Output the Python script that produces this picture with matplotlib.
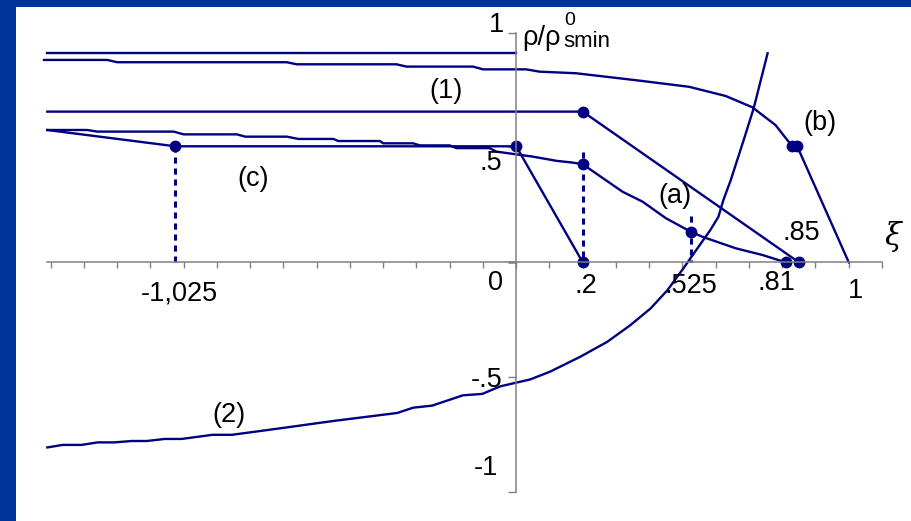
"""
density profiles rho/rho0_smin against xi, with the bubble curve (2) and the
marked break points on the xi axis
"""

import numpy as np
import matplotlib.pyplot as plt
from matplotlib.patches import Rectangle

plt.rcParams['font.family'] = ['Liberation Sans', 'DejaVu Sans']

NAVY = '#000080'
GREY = '#808080'
FRAME = '#003399'

# top flat level
top_x = [-1.41, 0.0]
top_y = [0.912, 0.912]

# (b) stepped profile ending at xi = 1
b_x = [-1.42, -1.23, -1.20, -0.69, -0.66, -0.36, -0.33, -0.13, -0.10, 0.03, 0.07,
       0.18, 0.37, 0.52, 0.63, 0.71, 0.78, 0.83, 0.845, 1.0]
b_y = [0.881, 0.881, 0.871, 0.871, 0.862, 0.862, 0.852, 0.852, 0.840, 0.840, 0.830,
       0.823, 0.791, 0.764, 0.724, 0.675, 0.597, 0.505, 0.505, 0.0]
b_dots_x = [0.83, 0.845]
b_dots_y = [0.505, 0.505]

# (1) flat then linear to .85
c1_x = [-1.41, 0.2, 0.85]
c1_y = [0.656, 0.656, 0.0]

# (a) stepped profile ending at .81
a_x = [-1.41, -1.29, -1.26, -1.03, -1.00, -0.84, -0.815, -0.69, -0.655, -0.55,
       -0.535, -0.41, -0.40, -0.31, -0.29, -0.20, -0.18, -0.08, -0.06, 0.0,
       0.05, 0.12, 0.17, 0.2, 0.32, 0.38, 0.45, 0.525, 0.56, 0.66, 0.74, 0.81]
a_y = [0.576, 0.576, 0.569, 0.569, 0.557, 0.557, 0.547, 0.547, 0.537, 0.537,
       0.528, 0.528, 0.518, 0.518, 0.509, 0.509, 0.497, 0.497, 0.482, 0.470,
       0.460, 0.442, 0.434, 0.427, 0.307, 0.264, 0.192, 0.133, 0.111, 0.061, 0.032, 0.0]
a_dots_x = [0.2, 0.525, 0.81]
a_dots_y = [0.427, 0.133, 0.0]

# (c) drop to -1,025, flat, then linear to .2
c_x = [-1.41, -1.025, 0.0, 0.2]
c_y = [0.576, 0.505, 0.505, 0.0]
c_dots_x = [-1.025, 0.0, 0.2]
c_dots_y = [0.505, 0.505, 0.0]

# (2)
c2_x = [-1.41, -1.364, -1.307, -1.259, -1.208, -1.157, -1.111, -1.057, -1.006,
        -0.913, -0.855, -0.711, -0.551, -0.358, -0.310, -0.253, -0.160, -0.102,
        -0.048, 0.0, 0.042, 0.102, 0.193, 0.274, 0.343, 0.404, 0.455, 0.503,
        0.545, 0.584, 0.608, 0.623, 0.645, 0.684, 0.714, 0.756]
c2_y = [-0.806, -0.795, -0.795, -0.784, -0.784, -0.778, -0.778, -0.769, -0.769,
        -0.751, -0.751, -0.723, -0.691, -0.656, -0.633, -0.624, -0.579, -0.573,
        -0.540, -0.524, -0.510, -0.476, -0.411, -0.346, -0.274, -0.201, -0.121, -0.026,
        0.061, 0.141, 0.198, 0.271, 0.357, 0.532, 0.670, 0.910]

# dotted markers down to the axis
drop_x = [-1.025, 0.2, 0.525]
drop_top = [0.505, 0.48, 0.2]

xtick_labels = ['-1,025', '0', '.2', '.525', '.81', '1']
xtick_label_pos = [(-1.014, -0.135), (-0.063, -0.09), (0.211, -0.105), (0.526, -0.105),
                   (0.782, -0.09), (1.02, -0.125)]
ytick_labels = ['1', '.5', '-.5', '-1']
ytick_label_pos = [(-0.036, 1.035), (-0.042, 0.432), (-0.042, -0.512), (-0.054, -0.896)]

curve_labels = ['(1)', '(b)', '(c)', '(a)', '(2)']
curve_label_pos = [(-0.211, 0.746), (0.914, 0.606), (-0.791, 0.362), (0.478, 0.289),
                   (-0.863, -0.665)]

W, H = 912, 521
fig = plt.figure(figsize=(W / 100, H / 100), dpi=100)
fig.patch.set_facecolor(FRAME)
fig.patches.append(Rectangle((16 / W, 0), 1 - 16 / W, 1 - 7 / H, transform=fig.transFigure,
                             facecolor='white', edgecolor='none', zorder=-10))

x0, x1 = -1.42, 1.1
px_left, px_right = 44, 882
py_top, py_bot = 32.6, 492
ax = fig.add_axes([px_left / W, (H - py_bot) / H, (px_right - px_left) / W, (py_bot - py_top) / H])
ax.set_xlim(x0, x1)
ax.set_ylim(-1, 1)
ax.patch.set_visible(False)

for s in ['top', 'right']:
    ax.spines[s].set_visible(False)
ax.spines['left'].set_position(('data', 0))
ax.spines['bottom'].set_position(('data', 0))
ax.spines['left'].set_bounds(-1, 1)
ax.spines['bottom'].set_bounds(-1.41, 1.1)
for s in ['left', 'bottom']:
    ax.spines[s].set_color(GREY)
    ax.spines[s].set_linewidth(1.1)

ax.set_xticks(np.round(np.arange(-1.4, 1.11, 0.1), 2))
ax.set_yticks([-1, -0.5, 0, 0.5, 1])
ax.tick_params(axis='x', direction='out', length=4, width=1.0, color=GREY, labelbottom=False)
ax.tick_params(axis='y', direction='out', length=6, width=1.0, color=GREY, labelleft=False)
# the origin tick is drawn darker
ax.yaxis.get_major_ticks()[2].tick1line.set_color('black')
ax.yaxis.get_major_ticks()[2].tick1line.set_markeredgewidth(1.8)

lw = 1.7
ms = 7.5
ax.plot(top_x, top_y, color=NAVY, lw=lw)
ax.plot(b_x, b_y, color=NAVY, lw=lw, clip_on=False)
ax.plot(b_dots_x, b_dots_y, 'o', color=NAVY, ms=ms)
ax.plot(c1_x, c1_y, color=NAVY, lw=lw)
ax.plot(c1_x[1:], c1_y[1:], 'o', color=NAVY, ms=ms, clip_on=False)
ax.plot(a_x, a_y, color=NAVY, lw=lw)
ax.plot(a_dots_x, a_dots_y, 'o', color=NAVY, ms=ms, clip_on=False)
ax.plot(c_x, c_y, color=NAVY, lw=lw)
ax.plot(c_dots_x, c_dots_y, 'o', color=NAVY, ms=ms, clip_on=False)
ax.plot(c2_x, c2_y, color=NAVY, lw=lw)

for xv, yt in zip(drop_x, drop_top):
    ax.plot([xv, xv], [yt, 0], color=NAVY, lw=2.2, linestyle=(0, (2.0, 1.6)))

fs = 19.5
for s, (xv, yv) in zip(xtick_labels, xtick_label_pos):
    ax.text(xv, yv, s, ha='center', va='center', fontsize=fs)
for s, (xv, yv) in zip(ytick_labels, ytick_label_pos):
    ax.text(xv, yv, s, ha='right', va='center', fontsize=fs)
for s, (xv, yv) in zip(curve_labels, curve_label_pos):
    ax.text(xv, yv, s, ha='center', va='center', fontsize=fs)

ax.text(0.857, 0.128, '.85', ha='center', va='center', fontsize=fs)
ax.text(1.134, 0.112, 'ξ', ha='center', va='center', fontsize=22,
        family='DejaVu Serif', style='italic', clip_on=False)

# axis name: rho / rho with raised 0 and "smin" set beside it
ax.text(0.018, 0.946, 'ρ/ρ', ha='left', va='baseline', fontsize=fs)
ax.text(0.143, 1.035, '0', ha='left', va='baseline', fontsize=14)
ax.text(0.143, 0.938, 'smin', ha='left', va='baseline', fontsize=16)

fig.savefig('out.png', dpi=100, facecolor=fig.get_facecolor())
